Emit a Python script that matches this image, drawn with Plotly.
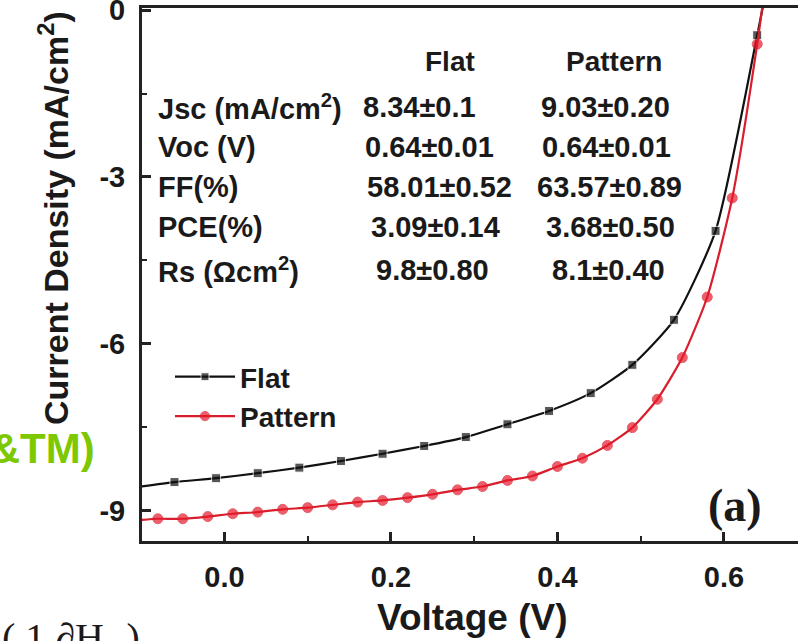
import plotly.graph_objects as go

# ---- data ----
flat_v = [-0.10, -0.06, -0.01, 0.04, 0.09, 0.14, 0.19, 0.24, 0.29, 0.34, 0.39,
          0.44, 0.49, 0.54, 0.59, 0.64, 0.65]
flat_j = [-8.57, -8.49, -8.42, -8.33, -8.23, -8.11, -7.98, -7.84, -7.68, -7.45, -7.21,
          -6.89, -6.38, -5.57, -3.97, -0.45, 0.30]
flat_marker = [0] + [9] * 15 + [0]

pat_v = [-0.10, -0.08, -0.05, -0.02, 0.01, 0.04, 0.07, 0.10, 0.13, 0.16, 0.19, 0.22,
         0.25, 0.28, 0.31, 0.34, 0.37, 0.40, 0.43, 0.46, 0.49, 0.52, 0.55, 0.58,
         0.61, 0.64, 0.65]
pat_j = [-9.17, -9.15, -9.15, -9.11, -9.06, -9.03, -8.98, -8.95, -8.90, -8.85, -8.82,
         -8.77, -8.71, -8.63, -8.57, -8.46, -8.38, -8.21, -8.06, -7.83, -7.51, -7.00,
         -6.25, -5.16, -3.38, -0.61, 0.50]
pat_marker = [0] + [10] * 25 + [0]

x_ticks = [0.0, 0.2, 0.4, 0.6]
x_ticklabels = ["0.0", "0.2", "0.4", "0.6"]
y_ticks = [-9, -6, -3, 0]
y_ticklabels = ["-9", "-6", "-3", "0"]

table_header = ["Flat", "Pattern"]
table_rows = ["Jsc (mA/cm<sup>2</sup>)", "Voc (V)", "FF(%)", "PCE(%)", "Rs (Ωcm<sup>2</sup>)"]
table_flat = ["8.34±0.1", "0.64±0.01", "58.01±0.52", "3.09±0.14", "9.8±0.80"]
table_pattern = ["9.03±0.20", "0.64±0.01", "63.57±0.89", "3.68±0.50", "8.1±0.40"]

W, H = 798, 641
ML, MR, MT, MB = 142, 0, 8, 100
PW, PH = W - ML - MR, H - MT - MB

def px(xp):
    return (xp - ML) / PW

def py(yp):
    return (H - MB - yp) / PH

FONT = "Liberation Sans, Arial, sans-serif"
TXT = "#1a1a1a"

fig = go.Figure()
fig.add_trace(go.Scatter(
    x=flat_v, y=flat_j, mode="lines+markers", name="<b>Flat</b>",
    line=dict(color="#111111", width=2.2, shape="spline", smoothing=0.6),
    marker=dict(symbol="square", size=flat_marker, color="#111111"),
))
fig.add_trace(go.Scatter(
    x=pat_v, y=pat_j, mode="lines+markers", name="<b>Pattern</b>",
    line=dict(color="#d81e2c", width=2.2, shape="spline", smoothing=0.6),
    marker=dict(symbol="circle", size=pat_marker, color="#e8192c"),
))

fig.update_layout(
    width=W, height=H,
    margin=dict(l=ML, r=MR, t=MT, b=MB, pad=0, autoexpand=False),
    paper_bgcolor="white", plot_bgcolor="white",
    showlegend=True,
    legend=dict(
        x=px(170), y=py(352), xanchor="left", yanchor="top",
        font=dict(family=FONT, size=28, color=TXT),
        bgcolor="rgba(0,0,0,0)", itemwidth=60, tracegroupgap=0,
    ),
    font=dict(family=FONT, color=TXT),
)

fig.update_xaxes(
    range=[-0.099, 0.689], tickvals=x_ticks, ticktext=x_ticklabels,
    ticks="inside", ticklen=9, tickwidth=2.5, tickcolor="#222",
    minor=dict(ticks="inside", dtick=0.1, tick0=0, ticklen=5, tickwidth=2, tickcolor="#222"),
    showline=True, linecolor="#222", linewidth=3, mirror=True,
    showgrid=False, zeroline=False, automargin=False,
    tickfont=dict(family=FONT, size=29, color=TXT, weight="bold"),
    ticklabelstandoff=8, ticklabeloverflow="allow",
)
fig.update_yaxes(
    range=[-9.55, 0.04], tickvals=y_ticks, ticktext=y_ticklabels,
    ticks="inside", ticklen=9, tickwidth=2.5, tickcolor="#222",
    minor=dict(ticks="inside", dtick=1.5, tick0=0, ticklen=5, tickwidth=2, tickcolor="#222"),
    showline=True, linecolor="#222", linewidth=3, mirror=False,
    showgrid=False, zeroline=False, automargin=False,
    tickfont=dict(family=FONT, size=29, color=TXT, weight="bold"),
    ticklabelstandoff=8, ticklabeloverflow="allow",
)

ann = []
# axis titles
ann.append(dict(text="<b>Voltage (V)</b>", x=px(473), y=py(617), xref="paper", yref="paper",
                showarrow=False, font=dict(family=FONT, size=37, color=TXT),
                xanchor="center", yanchor="middle"))
ann.append(dict(text="<b>Current Density (mA/cm<sup>2</sup>)</b>", x=px(53), y=py(218),
                xref="paper", yref="paper", showarrow=False, textangle=-90,
                font=dict(family=FONT, size=34, color=TXT),
                xanchor="center", yanchor="middle"))
# panel label
ann.append(dict(text="<b>(a)</b>", x=px(735), y=py(505), xref="paper", yref="paper",
                showarrow=False, font=dict(family="Liberation Serif, Times New Roman, serif",
                                           size=46, color=TXT),
                xanchor="center", yanchor="middle"))
# table header
for txt, xc in zip(table_header, [450, 614]):
    ann.append(dict(text="<b>%s</b>" % txt, x=px(xc), y=py(62), xref="paper", yref="paper",
                    showarrow=False, font=dict(family=FONT, size=28, color=TXT),
                    xanchor="center", yanchor="middle"))
row_y = [107, 147, 187, 227, 270]
flat_xc = [419, 429, 439, 435, 432]
pat_xc = [605, 606, 609, 610, 608]
for i, lab in enumerate(table_rows):
    ann.append(dict(text="<b>%s</b>" % lab, x=px(156), y=py(row_y[i]), xref="paper",
                    yref="paper", showarrow=False, font=dict(family=FONT, size=29, color=TXT),
                    xanchor="left", yanchor="middle"))
    ann.append(dict(text="<b>%s</b>" % table_flat[i], x=px(flat_xc[i]), y=py(row_y[i]),
                    xref="paper", yref="paper", showarrow=False,
                    font=dict(family=FONT, size=29, color=TXT),
                    xanchor="center", yanchor="middle"))
    ann.append(dict(text="<b>%s</b>" % table_pattern[i], x=px(pat_xc[i]), y=py(row_y[i]),
                    xref="paper", yref="paper", showarrow=False,
                    font=dict(family=FONT, size=29, color=TXT),
                    xanchor="center", yanchor="middle"))
# stray fragments of surrounding page content visible in the crop
ann.append(dict(text="<b>(TE&TM)</b>", x=px(97), y=py(448), xref="paper", yref="paper",
                showarrow=False, font=dict(family=FONT, size=42, color="#7ec800"),
                xanchor="right", yanchor="middle"))
ann.append(dict(text="( 1 ∂H<sub>z</sub> )", x=px(0), y=py(640), xref="paper", yref="paper",
                showarrow=False, font=dict(family="Liberation Serif, serif", size=40, color=TXT),
                xanchor="left", yanchor="middle"))
fig.update_layout(annotations=ann)

fig.write_html("out.html")
